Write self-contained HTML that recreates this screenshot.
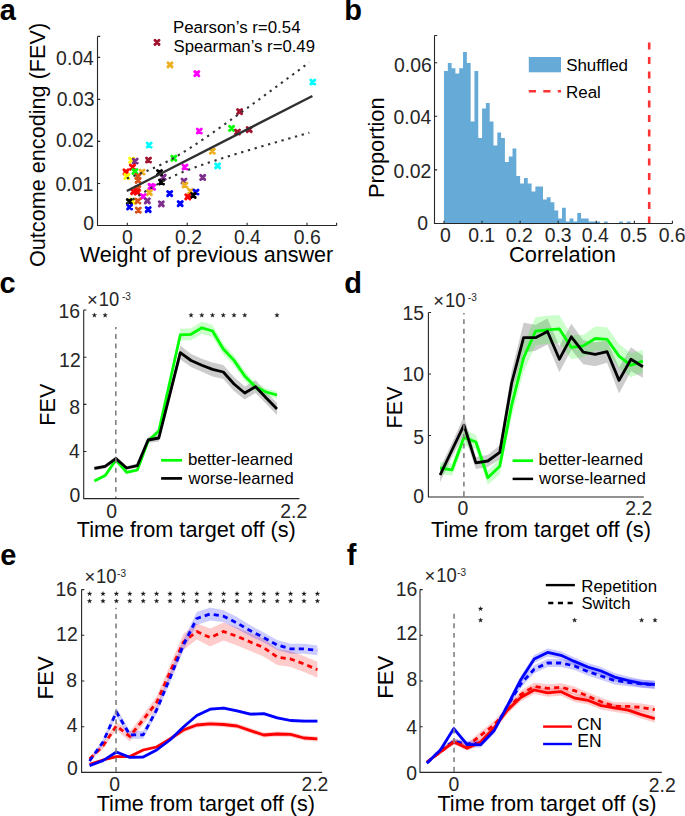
<!DOCTYPE html>
<html><head><meta charset="utf-8"><style>
html,body{margin:0;padding:0;background:#fff;}
svg{display:block;}
text{font-family:"Liberation Sans",sans-serif;}
</style></head><body>
<svg width="685" height="816" viewBox="0 0 685 816">
<rect width="685" height="816" fill="#fff"/>
<text x="-0.30" y="20.40" font-size="29" text-anchor="start" fill="#000" font-weight="bold" >a</text>
<text x="344.30" y="20.40" font-size="29" text-anchor="start" fill="#000" font-weight="bold" >b</text>
<text x="-0.50" y="293.30" font-size="29" text-anchor="start" fill="#000" font-weight="bold" >c</text>
<text x="344.30" y="293.30" font-size="29" text-anchor="start" fill="#000" font-weight="bold" >d</text>
<text x="0.20" y="565.00" font-size="29" text-anchor="start" fill="#000" font-weight="bold" >e</text>
<text x="346.80" y="564.80" font-size="29" text-anchor="start" fill="#000" font-weight="bold" >f</text>
<path d="M154.95,40.25 L159.05,44.35 M154.95,44.35 L159.05,40.25" stroke="#A2142F" stroke-width="2.9" stroke-linecap="round"/>
<path d="M167.95,62.75 L172.05,66.85 M167.95,66.85 L172.05,62.75" stroke="#EDB120" stroke-width="2.9" stroke-linecap="round"/>
<path d="M194.75,71.65 L198.85,75.75 M194.75,75.75 L198.85,71.65" stroke="#FF00FF" stroke-width="2.9" stroke-linecap="round"/>
<path d="M310.75,79.95 L314.85,84.05 M310.75,84.05 L314.85,79.95" stroke="#00FFFF" stroke-width="2.9" stroke-linecap="round"/>
<path d="M237.55,109.65 L241.65,113.75 M237.55,113.75 L241.65,109.65" stroke="#A2142F" stroke-width="2.9" stroke-linecap="round"/>
<path d="M229.55,126.25 L233.65,130.35 M229.55,130.35 L233.65,126.25" stroke="#00FF00" stroke-width="2.9" stroke-linecap="round"/>
<path d="M235.45,129.95 L239.55,134.05 M235.45,134.05 L239.55,129.95" stroke="#A2142F" stroke-width="2.9" stroke-linecap="round"/>
<path d="M247.15,127.55 L251.25,131.65 M247.15,131.65 L251.25,127.55" stroke="#A2142F" stroke-width="2.9" stroke-linecap="round"/>
<path d="M197.25,128.95 L201.35,133.05 M197.25,133.05 L201.35,128.95" stroke="#FF00FF" stroke-width="2.9" stroke-linecap="round"/>
<path d="M210.25,149.15 L214.35,153.25 M210.25,153.25 L214.35,149.15" stroke="#EDB120" stroke-width="2.9" stroke-linecap="round"/>
<path d="M215.55,163.75 L219.65,167.85 M215.55,167.85 L219.65,163.75" stroke="#00FFFF" stroke-width="2.9" stroke-linecap="round"/>
<path d="M200.65,175.35 L204.75,179.45 M200.65,179.45 L204.75,175.35" stroke="#7E2F8E" stroke-width="2.9" stroke-linecap="round"/>
<path d="M171.75,156.15 L175.85,160.25 M171.75,160.25 L175.85,156.15" stroke="#00FF00" stroke-width="2.9" stroke-linecap="round"/>
<path d="M182.95,164.95 L187.05,169.05 M182.95,169.05 L187.05,164.95" stroke="#FF00FF" stroke-width="2.9" stroke-linecap="round"/>
<path d="M181.95,178.95 L186.05,183.05 M181.95,183.05 L186.05,178.95" stroke="#7E2F8E" stroke-width="2.9" stroke-linecap="round"/>
<path d="M182.95,182.95 L187.05,187.05 M182.95,187.05 L187.05,182.95" stroke="#EDB120" stroke-width="2.9" stroke-linecap="round"/>
<path d="M188.45,189.25 L192.55,193.35 M188.45,193.35 L192.55,189.25" stroke="#EDB120" stroke-width="2.9" stroke-linecap="round"/>
<path d="M193.95,189.95 L198.05,194.05 M193.95,194.05 L198.05,189.95" stroke="#0000FF" stroke-width="2.9" stroke-linecap="round"/>
<path d="M191.15,193.45 L195.25,197.55 M191.15,197.55 L195.25,193.45" stroke="#000000" stroke-width="2.9" stroke-linecap="round"/>
<path d="M185.75,194.75 L189.85,198.85 M185.75,198.85 L189.85,194.75" stroke="#FF0000" stroke-width="2.9" stroke-linecap="round"/>
<path d="M167.65,191.55 L171.75,195.65 M167.65,195.65 L171.75,191.55" stroke="#0000FF" stroke-width="2.9" stroke-linecap="round"/>
<path d="M178.15,201.65 L182.25,205.75 M178.15,205.75 L182.25,201.65" stroke="#0000FF" stroke-width="2.9" stroke-linecap="round"/>
<path d="M159.25,201.75 L163.35,205.85 M159.25,205.85 L163.35,201.75" stroke="#7E2F8E" stroke-width="2.9" stroke-linecap="round"/>
<path d="M161.15,175.15 L165.25,179.25 M161.15,179.25 L165.25,175.15" stroke="#7E2F8E" stroke-width="2.9" stroke-linecap="round"/>
<path d="M157.45,170.55 L161.55,174.65 M157.45,174.65 L161.55,170.55" stroke="#000000" stroke-width="2.9" stroke-linecap="round"/>
<path d="M159.45,179.95 L163.55,184.05 M159.45,184.05 L163.55,179.95" stroke="#000000" stroke-width="2.9" stroke-linecap="round"/>
<path d="M147.15,142.95 L151.25,147.05 M147.15,147.05 L151.25,142.95" stroke="#00FFFF" stroke-width="2.9" stroke-linecap="round"/>
<path d="M146.45,157.95 L150.55,162.05 M146.45,162.05 L150.55,157.95" stroke="#A2142F" stroke-width="2.9" stroke-linecap="round"/>
<path d="M129.55,158.15 L133.65,162.25 M129.55,162.25 L133.65,158.15" stroke="#FFFF00" stroke-width="2.9" stroke-linecap="round"/>
<path d="M133.15,158.95 L137.25,163.05 M133.15,163.05 L137.25,158.95" stroke="#7E2F8E" stroke-width="2.9" stroke-linecap="round"/>
<path d="M130.45,165.15 L134.55,169.25 M130.45,169.25 L134.55,165.15" stroke="#FF0000" stroke-width="2.9" stroke-linecap="round"/>
<path d="M123.95,169.85 L128.05,173.95 M123.95,173.95 L128.05,169.85" stroke="#FF0000" stroke-width="2.9" stroke-linecap="round"/>
<path d="M132.85,169.45 L136.95,173.55 M132.85,173.55 L136.95,169.45" stroke="#00FF00" stroke-width="2.9" stroke-linecap="round"/>
<path d="M140.05,169.95 L144.15,174.05 M140.05,174.05 L144.15,169.95" stroke="#EDB120" stroke-width="2.9" stroke-linecap="round"/>
<path d="M124.75,174.35 L128.85,178.45 M124.75,178.45 L128.85,174.35" stroke="#FFFF00" stroke-width="2.9" stroke-linecap="round"/>
<path d="M135.75,174.35 L139.85,178.45 M135.75,178.45 L139.85,174.35" stroke="#D95319" stroke-width="2.9" stroke-linecap="round"/>
<path d="M136.05,178.25 L140.15,182.35 M136.05,182.35 L140.15,178.25" stroke="#D95319" stroke-width="2.9" stroke-linecap="round"/>
<path d="M148.95,184.35 L153.05,188.45 M148.95,188.45 L153.05,184.35" stroke="#FF00FF" stroke-width="2.9" stroke-linecap="round"/>
<path d="M150.55,185.15 L154.65,189.25 M150.55,189.25 L154.65,185.15" stroke="#FF00FF" stroke-width="2.9" stroke-linecap="round"/>
<path d="M135.75,186.45 L139.85,190.55 M135.75,190.55 L139.85,186.45" stroke="#D95319" stroke-width="2.9" stroke-linecap="round"/>
<path d="M131.55,189.55 L135.65,193.65 M131.55,193.65 L135.65,189.55" stroke="#FF0000" stroke-width="2.9" stroke-linecap="round"/>
<path d="M134.95,189.75 L139.05,193.85 M134.95,193.85 L139.05,189.75" stroke="#FF0000" stroke-width="2.9" stroke-linecap="round"/>
<path d="M147.35,190.55 L151.45,194.65 M147.35,194.65 L151.45,190.55" stroke="#EDB120" stroke-width="2.9" stroke-linecap="round"/>
<path d="M141.05,194.45 L145.15,198.55 M141.05,198.55 L145.15,194.45" stroke="#FF00FF" stroke-width="2.9" stroke-linecap="round"/>
<path d="M130.35,199.15 L134.45,203.25 M130.35,203.25 L134.45,199.15" stroke="#FFFF00" stroke-width="2.9" stroke-linecap="round"/>
<path d="M127.25,199.45 L131.35,203.55 M127.25,203.55 L131.35,199.45" stroke="#000000" stroke-width="2.9" stroke-linecap="round"/>
<path d="M135.85,198.95 L139.95,203.05 M135.85,203.05 L139.95,198.95" stroke="#D95319" stroke-width="2.9" stroke-linecap="round"/>
<path d="M145.25,198.75 L149.35,202.85 M145.25,202.85 L149.35,198.75" stroke="#7E2F8E" stroke-width="2.9" stroke-linecap="round"/>
<path d="M127.55,204.95 L131.65,209.05 M127.55,209.05 L131.65,204.95" stroke="#0000FF" stroke-width="2.9" stroke-linecap="round"/>
<path d="M136.25,208.05 L140.35,212.15 M136.25,212.15 L140.35,208.05" stroke="#D95319" stroke-width="2.9" stroke-linecap="round"/>
<path d="M146.15,207.55 L150.25,211.65 M146.15,211.65 L150.25,207.55" stroke="#0000FF" stroke-width="2.9" stroke-linecap="round"/>
<path d="M126.80,178.40 L127.30,178.23 L127.80,178.06 L128.30,177.89 L128.80,177.71 L129.30,177.54 L129.80,177.36 L130.30,177.19 L130.80,177.01 L131.30,176.84 L131.80,176.66 L132.30,176.48 L132.80,176.30 L133.30,176.12 L133.80,175.94 L134.30,175.76 L134.80,175.58 L135.30,175.40 L135.80,175.22 L136.30,175.03 L136.80,174.85 L137.30,174.66 L137.80,174.48 L138.30,174.29 L138.80,174.10 L139.30,173.91 L139.80,173.72 L140.30,173.53 L140.80,173.34 L141.30,173.15 L141.80,172.96 L142.30,172.76 L142.80,172.57 L143.30,172.37 L143.80,172.18 L144.30,171.98 L144.80,171.78 L145.30,171.58 L145.80,171.38 L146.30,171.17 L146.80,170.97 L147.30,170.76 L147.80,170.56 L148.30,170.35 L148.80,170.14 L149.30,169.93 L149.80,169.72 L150.30,169.51 L150.80,169.30 L151.30,169.08 L151.80,168.87 L152.30,168.65 L152.80,168.43 L153.30,168.21 L153.80,167.99 L154.30,167.77 L154.80,167.54 L155.30,167.32 L155.80,167.09 L156.30,166.86 L156.80,166.63 L157.30,166.40 L157.80,166.17 L158.30,165.93 L158.80,165.70 L159.30,165.46 L159.80,165.22 L160.30,164.98 L160.80,164.74 L161.30,164.50 L161.80,164.25 L162.30,164.00 L162.80,163.75 L163.30,163.51 L163.80,163.25 L164.30,163.00 L164.80,162.75 L165.30,162.49 L165.80,162.23 L166.30,161.97 L166.80,161.71 L167.30,161.45 L167.80,161.19 L168.30,160.92 L168.80,160.65 L169.30,160.38 L169.80,160.11 L170.30,159.84 L170.80,159.57 L171.30,159.29 L171.80,159.02 L172.30,158.74 L172.80,158.46 L173.30,158.18 L173.80,157.90 L174.30,157.61 L174.80,157.33 L175.30,157.04 L175.80,156.75 L176.30,156.46 L176.80,156.17 L177.30,155.88 L177.80,155.59 L178.30,155.29 L178.80,154.99 L179.30,154.70 L179.80,154.40 L180.30,154.10 L180.80,153.80 L181.30,153.49 L181.80,153.19 L182.30,152.89 L182.80,152.58 L183.30,152.27 L183.80,151.96 L184.30,151.65 L184.80,151.34 L185.30,151.03 L185.80,150.72 L186.30,150.40 L186.80,150.09 L187.30,149.77 L187.80,149.46 L188.30,149.14 L188.80,148.82 L189.30,148.50 L189.80,148.18 L190.30,147.86 L190.80,147.53 L191.30,147.21 L191.80,146.88 L192.30,146.56 L192.80,146.23 L193.30,145.91 L193.80,145.58 L194.30,145.25 L194.80,144.92 L195.30,144.59 L195.80,144.26 L196.30,143.93 L196.80,143.60 L197.30,143.26 L197.80,142.93 L198.30,142.60 L198.80,142.26 L199.30,141.92 L199.80,141.59 L200.30,141.25 L200.80,140.91 L201.30,140.58 L201.80,140.24 L202.30,139.90 L202.80,139.56 L203.30,139.22 L203.80,138.88 L204.30,138.54 L204.80,138.19 L205.30,137.85 L205.80,137.51 L206.30,137.17 L206.80,136.82 L207.30,136.48 L207.80,136.13 L208.30,135.79 L208.80,135.44 L209.30,135.10 L209.80,134.75 L210.30,134.40 L210.80,134.06 L211.30,133.71 L211.80,133.36 L212.30,133.01 L212.80,132.66 L213.30,132.31 L213.80,131.96 L214.30,131.61 L214.80,131.26 L215.30,130.91 L215.80,130.56 L216.30,130.21 L216.80,129.86 L217.30,129.51 L217.80,129.15 L218.30,128.80 L218.80,128.45 L219.30,128.10 L219.80,127.74 L220.30,127.39 L220.80,127.03 L221.30,126.68 L221.80,126.33 L222.30,125.97 L222.80,125.62 L223.30,125.26 L223.80,124.90 L224.30,124.55 L224.80,124.19 L225.30,123.84 L225.80,123.48 L226.30,123.12 L226.80,122.77 L227.30,122.41 L227.80,122.05 L228.30,121.69 L228.80,121.34 L229.30,120.98 L229.80,120.62 L230.30,120.26 L230.80,119.90 L231.30,119.54 L231.80,119.19 L232.30,118.83 L232.80,118.47 L233.30,118.11 L233.80,117.75 L234.30,117.39 L234.80,117.03 L235.30,116.67 L235.80,116.31 L236.30,115.95 L236.80,115.59 L237.30,115.23 L237.80,114.87 L238.30,114.50 L238.80,114.14 L239.30,113.78 L239.80,113.42 L240.30,113.06 L240.80,112.70 L241.30,112.33 L241.80,111.97 L242.30,111.61 L242.80,111.25 L243.30,110.89 L243.80,110.52 L244.30,110.16 L244.80,109.80 L245.30,109.43 L245.80,109.07 L246.30,108.71 L246.80,108.34 L247.30,107.98 L247.80,107.62 L248.30,107.25 L248.80,106.89 L249.30,106.53 L249.80,106.16 L250.30,105.80 L250.80,105.43 L251.30,105.07 L251.80,104.71 L252.30,104.34 L252.80,103.98 L253.30,103.61 L253.80,103.25 L254.30,102.88 L254.80,102.52 L255.30,102.15 L255.80,101.79 L256.30,101.42 L256.80,101.06 L257.30,100.69 L257.80,100.33 L258.30,99.96 L258.80,99.59 L259.30,99.23 L259.80,98.86 L260.30,98.50 L260.80,98.13 L261.30,97.77 L261.80,97.40 L262.30,97.03 L262.80,96.67 L263.30,96.30 L263.80,95.93 L264.30,95.57 L264.80,95.20 L265.30,94.83 L265.80,94.47 L266.30,94.10 L266.80,93.73 L267.30,93.37 L267.80,93.00 L268.30,92.63 L268.80,92.27 L269.30,91.90 L269.80,91.53 L270.30,91.17 L270.80,90.80 L271.30,90.43 L271.80,90.06 L272.30,89.70 L272.80,89.33 L273.30,88.96 L273.80,88.59 L274.30,88.23 L274.80,87.86 L275.30,87.49 L275.80,87.12 L276.30,86.75 L276.80,86.39 L277.30,86.02 L277.80,85.65 L278.30,85.28 L278.80,84.91 L279.30,84.55 L279.80,84.18 L280.30,83.81 L280.80,83.44 L281.30,83.07 L281.80,82.70 L282.30,82.34 L282.80,81.97 L283.30,81.60 L283.80,81.23 L284.30,80.86 L284.80,80.49 L285.30,80.12 L285.80,79.76 L286.30,79.39 L286.80,79.02 L287.30,78.65 L287.80,78.28 L288.30,77.91 L288.80,77.54 L289.30,77.17 L289.80,76.80 L290.30,76.44 L290.80,76.07 L291.30,75.70 L291.80,75.33 L292.30,74.96 L292.80,74.59 L293.30,74.22 L293.80,73.85 L294.30,73.48 L294.80,73.11 L295.30,72.74 L295.80,72.37 L296.30,72.00 L296.80,71.63 L297.30,71.26 L297.80,70.89 L298.30,70.53 L298.80,70.16 L299.30,69.79 L299.80,69.42 L300.30,69.05 L300.80,68.68 L301.30,68.31 L301.80,67.94 L302.30,67.57 L302.80,67.20 L303.30,66.83 L303.80,66.46 L304.30,66.09 L304.80,65.72 L305.30,65.35 L305.80,64.98 L306.30,64.61 L306.80,64.24 L307.30,63.87 L307.80,63.50 L308.30,63.13 L308.80,62.76 L309.30,62.39" fill="none" stroke="#333" stroke-width="2.1" stroke-dasharray="2.3 4.7" stroke-linejoin="round" />
<path d="M126.80,203.60 L127.30,203.26 L127.80,202.92 L128.30,202.58 L128.80,202.24 L129.30,201.90 L129.80,201.56 L130.30,201.23 L130.80,200.89 L131.30,200.56 L131.80,200.22 L132.30,199.89 L132.80,199.55 L133.30,199.22 L133.80,198.89 L134.30,198.56 L134.80,198.23 L135.30,197.90 L135.80,197.57 L136.30,197.24 L136.80,196.91 L137.30,196.58 L137.80,196.26 L138.30,195.93 L138.80,195.61 L139.30,195.29 L139.80,194.96 L140.30,194.64 L140.80,194.32 L141.30,194.00 L141.80,193.68 L142.30,193.36 L142.80,193.05 L143.30,192.73 L143.80,192.42 L144.30,192.10 L144.80,191.79 L145.30,191.48 L145.80,191.17 L146.30,190.86 L146.80,190.55 L147.30,190.24 L147.80,189.94 L148.30,189.63 L148.80,189.33 L149.30,189.03 L149.80,188.72 L150.30,188.43 L150.80,188.13 L151.30,187.83 L151.80,187.53 L152.30,187.24 L152.80,186.94 L153.30,186.65 L153.80,186.36 L154.30,186.07 L154.80,185.79 L155.30,185.50 L155.80,185.21 L156.30,184.93 L156.80,184.65 L157.30,184.37 L157.80,184.09 L158.30,183.81 L158.80,183.53 L159.30,183.26 L159.80,182.99 L160.30,182.72 L160.80,182.45 L161.30,182.18 L161.80,181.91 L162.30,181.64 L162.80,181.38 L163.30,181.12 L163.80,180.86 L164.30,180.60 L164.80,180.34 L165.30,180.09 L165.80,179.83 L166.30,179.58 L166.80,179.33 L167.30,179.08 L167.80,178.83 L168.30,178.58 L168.80,178.34 L169.30,178.10 L169.80,177.85 L170.30,177.61 L170.80,177.38 L171.30,177.14 L171.80,176.90 L172.30,176.67 L172.80,176.44 L173.30,176.21 L173.80,175.98 L174.30,175.75 L174.80,175.52 L175.30,175.30 L175.80,175.07 L176.30,174.85 L176.80,174.63 L177.30,174.41 L177.80,174.19 L178.30,173.97 L178.80,173.76 L179.30,173.54 L179.80,173.33 L180.30,173.12 L180.80,172.91 L181.30,172.70 L181.80,172.49 L182.30,172.28 L182.80,172.08 L183.30,171.87 L183.80,171.67 L184.30,171.47 L184.80,171.27 L185.30,171.07 L185.80,170.87 L186.30,170.67 L186.80,170.47 L187.30,170.28 L187.80,170.08 L188.30,169.89 L188.80,169.69 L189.30,169.50 L189.80,169.31 L190.30,169.12 L190.80,168.93 L191.30,168.74 L191.80,168.56 L192.30,168.37 L192.80,168.18 L193.30,168.00 L193.80,167.81 L194.30,167.63 L194.80,167.45 L195.30,167.27 L195.80,167.08 L196.30,166.90 L196.80,166.72 L197.30,166.54 L197.80,166.37 L198.30,166.19 L198.80,166.01 L199.30,165.84 L199.80,165.66 L200.30,165.48 L200.80,165.31 L201.30,165.14 L201.80,164.96 L202.30,164.79 L202.80,164.62 L203.30,164.45 L203.80,164.27 L204.30,164.10 L204.80,163.93 L205.30,163.76 L205.80,163.60 L206.30,163.43 L206.80,163.26 L207.30,163.09 L207.80,162.92 L208.30,162.76 L208.80,162.59 L209.30,162.42 L209.80,162.26 L210.30,162.09 L210.80,161.93 L211.30,161.76 L211.80,161.60 L212.30,161.44 L212.80,161.27 L213.30,161.11 L213.80,160.95 L214.30,160.79 L214.80,160.63 L215.30,160.46 L215.80,160.30 L216.30,160.14 L216.80,159.98 L217.30,159.82 L217.80,159.66 L218.30,159.50 L218.80,159.34 L219.30,159.18 L219.80,159.03 L220.30,158.87 L220.80,158.71 L221.30,158.55 L221.80,158.39 L222.30,158.24 L222.80,158.08 L223.30,157.92 L223.80,157.77 L224.30,157.61 L224.80,157.45 L225.30,157.30 L225.80,157.14 L226.30,156.99 L226.80,156.83 L227.30,156.68 L227.80,156.52 L228.30,156.37 L228.80,156.22 L229.30,156.06 L229.80,155.91 L230.30,155.75 L230.80,155.60 L231.30,155.45 L231.80,155.29 L232.30,155.14 L232.80,154.99 L233.30,154.84 L233.80,154.68 L234.30,154.53 L234.80,154.38 L235.30,154.23 L235.80,154.08 L236.30,153.92 L236.80,153.77 L237.30,153.62 L237.80,153.47 L238.30,153.32 L238.80,153.17 L239.30,153.02 L239.80,152.87 L240.30,152.72 L240.80,152.57 L241.30,152.42 L241.80,152.27 L242.30,152.12 L242.80,151.97 L243.30,151.82 L243.80,151.67 L244.30,151.52 L244.80,151.37 L245.30,151.22 L245.80,151.07 L246.30,150.92 L246.80,150.78 L247.30,150.63 L247.80,150.48 L248.30,150.33 L248.80,150.18 L249.30,150.03 L249.80,149.89 L250.30,149.74 L250.80,149.59 L251.30,149.44 L251.80,149.29 L252.30,149.15 L252.80,149.00 L253.30,148.85 L253.80,148.71 L254.30,148.56 L254.80,148.41 L255.30,148.26 L255.80,148.12 L256.30,147.97 L256.80,147.82 L257.30,147.68 L257.80,147.53 L258.30,147.38 L258.80,147.24 L259.30,147.09 L259.80,146.95 L260.30,146.80 L260.80,146.65 L261.30,146.51 L261.80,146.36 L262.30,146.22 L262.80,146.07 L263.30,145.92 L263.80,145.78 L264.30,145.63 L264.80,145.49 L265.30,145.34 L265.80,145.20 L266.30,145.05 L266.80,144.91 L267.30,144.76 L267.80,144.62 L268.30,144.47 L268.80,144.33 L269.30,144.18 L269.80,144.04 L270.30,143.89 L270.80,143.75 L271.30,143.60 L271.80,143.46 L272.30,143.31 L272.80,143.17 L273.30,143.02 L273.80,142.88 L274.30,142.73 L274.80,142.59 L275.30,142.45 L275.80,142.30 L276.30,142.16 L276.80,142.01 L277.30,141.87 L277.80,141.73 L278.30,141.58 L278.80,141.44 L279.30,141.29 L279.80,141.15 L280.30,141.01 L280.80,140.86 L281.30,140.72 L281.80,140.58 L282.30,140.43 L282.80,140.29 L283.30,140.15 L283.80,140.00 L284.30,139.86 L284.80,139.71 L285.30,139.57 L285.80,139.43 L286.30,139.29 L286.80,139.14 L287.30,139.00 L287.80,138.86 L288.30,138.71 L288.80,138.57 L289.30,138.43 L289.80,138.28 L290.30,138.14 L290.80,138.00 L291.30,137.86 L291.80,137.71 L292.30,137.57 L292.80,137.43 L293.30,137.28 L293.80,137.14 L294.30,137.00 L294.80,136.86 L295.30,136.71 L295.80,136.57 L296.30,136.43 L296.80,136.29 L297.30,136.14 L297.80,136.00 L298.30,135.86 L298.80,135.72 L299.30,135.57 L299.80,135.43 L300.30,135.29 L300.80,135.15 L301.30,135.01 L301.80,134.86 L302.30,134.72 L302.80,134.58 L303.30,134.44 L303.80,134.29 L304.30,134.15 L304.80,134.01 L305.30,133.87 L305.80,133.73 L306.30,133.58 L306.80,133.44 L307.30,133.30 L307.80,133.16 L308.30,133.02 L308.80,132.88 L309.30,132.73" fill="none" stroke="#333" stroke-width="2.1" stroke-dasharray="2.3 4.7" stroke-linejoin="round" />
<path d="M126.8,191.0 L312.4,95.97" stroke="#303030" stroke-width="2.4"/>
<path d="M97.5,36.4 V225.5 H336.6" fill="none" stroke="#262626" stroke-width="1.1"/>
<path d="M97.5,183.50 h2.7 M97.5,141.40 h2.7 M97.5,99.40 h2.7 M97.5,57.40 h2.7 M97.5,36.40 h2.7 M127.30,225.5 v-2.7 M187.20,225.5 v-2.7 M247.10,225.5 v-2.7 M307.00,225.5 v-2.7 M336.60,225.5 v-2.7 " fill="none" stroke="#262626" stroke-width="1.1"/>
<text x="83.27" y="230.00" font-size="19.4" text-anchor="start" fill="#262626" >0</text>
<text x="55.49" y="191.10" font-size="19.4" text-anchor="start" fill="#262626" >0.01</text>
<text x="56.12" y="147.10" font-size="19.4" text-anchor="start" fill="#262626" >0.02</text>
<text x="56.69" y="105.90" font-size="19.4" text-anchor="start" fill="#262626" >0.03</text>
<text x="56.11" y="64.80" font-size="19.4" text-anchor="start" fill="#262626" >0.04</text>
<text x="121.91" y="244.00" font-size="19.4" text-anchor="start" fill="#262626" >0</text>
<text x="175.02" y="244.00" font-size="19.4" text-anchor="start" fill="#262626" >0.2</text>
<text x="233.92" y="244.00" font-size="19.4" text-anchor="start" fill="#262626" >0.4</text>
<text x="293.76" y="244.00" font-size="19.4" text-anchor="start" fill="#262626" >0.6</text>
<text x="79.81" y="262.00" font-size="21.544" text-anchor="start" fill="#000" >Weight of previous answer</text>
<text transform="translate(45.20,267.03) rotate(-90)" font-size="21.659" fill="#000">Outcome encoding (FEV)</text>
<text x="172.92" y="32.70" font-size="16.879" text-anchor="start" fill="#000" >Pearson’s r=0.54</text>
<text x="173.54" y="52.00" font-size="16.722" text-anchor="start" fill="#000" >Spearman’s r=0.49</text>
<path d="M444.00,223.5 V71.00 H447.81 V63.00 H451.61 V68.20 H455.42 V73.50 H459.23 V68.20 H463.04 V52.00 H466.84 V63.00 H470.65 V121.60 H474.46 V71.00 H478.26 V138.00 H482.07 V108.40 H485.88 V103.00 H489.68 V121.60 H493.49 V145.60 H497.30 V132.40 H501.11 V138.00 H504.91 V162.00 H508.72 V156.60 H512.53 V148.60 H516.33 V176.00 H520.14 V183.60 H523.95 V178.00 H527.75 V183.60 H531.56 V191.60 H535.37 V186.40 H539.17 V186.40 H542.98 V199.60 H546.79 V197.20 H550.60 V202.20 H554.40 V210.40 H558.21 V218.40 H562.02 V207.70 H565.82 V221.40 H569.63 V218.40 H573.44 V221.40 H577.25 V213.00 H581.05 V218.40 H584.86 V218.40 H588.67 V221.40 H592.47 V221.40 H596.28 V221.40 H600.09 V223.5Z M603.89,223.5 V221.40 H607.70 V223.5Z M619.12,223.5 V221.40 H622.93 V223.5Z M626.74,223.5 V221.40 H630.54 V223.5Z " fill="#66AAD7" stroke="none"/>
<path d="M649.2,223.5 V35.5" stroke="#FF3333" stroke-width="2.6" stroke-dasharray="7 7.5"/>
<path d="M434.5,35.5 V223.5 H672.4" fill="none" stroke="#262626" stroke-width="1.1"/>
<path d="M434.5,169.90 h2.7 M434.5,116.30 h2.7 M434.5,62.70 h2.7 M434.5,35.50 h2.7 M444.00,223.5 v-2.7 M482.07,223.5 v-2.7 M520.14,223.5 v-2.7 M558.21,223.5 v-2.7 M596.28,223.5 v-2.7 M634.35,223.5 v-2.7 M672.42,223.5 v-2.7 " fill="none" stroke="#262626" stroke-width="1.1"/>
<text x="417.27" y="230.40" font-size="19.4" text-anchor="start" fill="#262626" >0</text>
<text x="393.62" y="178.10" font-size="19.4" text-anchor="start" fill="#262626" >0.02</text>
<text x="393.51" y="124.20" font-size="19.4" text-anchor="start" fill="#262626" >0.04</text>
<text x="394.09" y="71.50" font-size="19.4" text-anchor="start" fill="#262626" >0.06</text>
<text x="440.11" y="242.10" font-size="19.4" text-anchor="start" fill="#262626" >0</text>
<text x="468.21" y="242.10" font-size="19.4" text-anchor="start" fill="#262626" >0.1</text>
<text x="505.72" y="242.10" font-size="19.4" text-anchor="start" fill="#262626" >0.2</text>
<text x="544.66" y="242.10" font-size="19.4" text-anchor="start" fill="#262626" >0.3</text>
<text x="581.82" y="242.10" font-size="19.4" text-anchor="start" fill="#262626" >0.4</text>
<text x="620.14" y="242.10" font-size="19.4" text-anchor="start" fill="#262626" >0.5</text>
<text x="658.66" y="242.10" font-size="19.4" text-anchor="start" fill="#262626" >0.6</text>
<text x="509.09" y="261.90" font-size="21.841" text-anchor="start" fill="#000" >Correlation</text>
<text transform="translate(384.10,197.99) rotate(-90)" font-size="21.805" fill="#000">Proportion</text>
<rect x="528.8" y="57" width="32.2" height="15.3" fill="#66AAD7"/>
<path d="M528.8,91.3 H561" stroke="#FF3333" stroke-width="2.6" stroke-dasharray="7.2 7.3"/>
<text x="566.13" y="70.70" font-size="16.968" text-anchor="start" fill="#000" >Shuffled</text>
<text x="566.01" y="97.50" font-size="16.95" text-anchor="start" fill="#000" >Real</text>
<path d="M94.40,466.40 L105.14,464.40 L115.88,456.10 L126.62,466.00 L137.36,463.60 L148.10,437.00 L158.84,434.50 L169.58,390.30 L180.32,345.60 L191.06,354.00 L201.80,358.70 L212.54,362.40 L223.28,365.00 L234.02,377.00 L244.76,386.50 L255.50,380.10 L266.24,392.00 L276.98,403.00 L276.98,415.00 L266.24,404.00 L255.50,393.10 L244.76,399.50 L234.02,391.00 L223.28,379.00 L212.54,376.40 L201.80,371.70 L191.06,367.00 L180.32,359.60 L169.58,400.30 L158.84,441.50 L148.10,443.00 L137.36,467.60 L126.62,470.00 L115.88,461.10 L105.14,468.40 L94.40,470.40Z" fill="#000000" fill-opacity="0.2" stroke="none"/>
<path d="M94.40,479.50 L105.14,474.10 L115.88,458.00 L126.62,470.90 L137.36,468.50 L148.10,438.50 L158.84,428.00 L169.58,379.00 L180.32,328.80 L191.06,328.30 L201.80,321.50 L212.54,325.00 L223.28,343.50 L234.02,355.40 L244.76,371.00 L255.50,383.00 L266.24,388.50 L276.98,391.50 L276.98,398.50 L266.24,395.50 L255.50,391.00 L244.76,381.00 L234.02,365.40 L223.28,354.50 L212.54,337.00 L201.80,334.10 L191.06,340.30 L180.32,340.80 L169.58,387.00 L158.84,434.00 L148.10,443.50 L137.36,471.50 L126.62,473.90 L115.88,462.00 L105.14,477.10 L94.40,482.50Z" fill="#00FF00" fill-opacity="0.2" stroke="none"/>
<path d="M94.40,481.00 L105.14,475.60 L115.88,460.00 L126.62,472.40 L137.36,470.00 L148.10,441.00 L158.84,431.00 L169.58,383.00 L180.32,334.80 L191.06,334.30 L201.80,327.80 L212.54,331.00 L223.28,349.00 L234.02,360.40 L244.76,376.00 L255.50,387.00 L266.24,392.00 L276.98,395.00" fill="none" stroke="#00FF00" stroke-width="2.8" stroke-linejoin="round" />
<path d="M94.40,468.40 L105.14,466.40 L115.88,458.60 L126.62,468.00 L137.36,465.60 L148.10,440.00 L158.84,438.00 L169.58,395.30 L180.32,352.60 L191.06,360.50 L201.80,365.20 L212.54,369.40 L223.28,372.00 L234.02,384.00 L244.76,393.00 L255.50,386.60 L266.24,398.00 L276.98,409.00" fill="none" stroke="#000000" stroke-width="2.8" stroke-linejoin="round" />
<path d="M115.8,326.9 V498.6" stroke="#808080" stroke-width="1.6" stroke-dasharray="4.9 4.66" stroke-dashoffset="2.46"/>
<path d="M83.7,310 V498.6 H299.4" fill="none" stroke="#262626" stroke-width="1.1"/>
<path d="M83.7,451.50 h2.7 M83.7,404.40 h2.7 M83.7,357.20 h2.7 M83.7,310.00 h2.7 " fill="none" stroke="#262626" stroke-width="1.1"/>
<text x="69.57" y="501.90" font-size="19.4" text-anchor="start" fill="#262626" >0</text>
<text x="69.08" y="458.30" font-size="19.4" text-anchor="start" fill="#262626" >4</text>
<text x="69.35" y="413.70" font-size="19.4" text-anchor="start" fill="#262626" >8</text>
<text x="59.10" y="366.60" font-size="19.4" text-anchor="start" fill="#262626" >12</text>
<text x="58.57" y="318.10" font-size="19.4" text-anchor="start" fill="#262626" >16</text>
<text x="106.31" y="517.60" font-size="19.4" text-anchor="start" fill="#262626" >0</text>
<text x="280.22" y="517.70" font-size="19.4" text-anchor="start" fill="#262626" >2.2</text>
<text x="76.71" y="536.50" font-size="21.678" text-anchor="start" fill="#000" >Time from target off (s)</text>
<text transform="translate(55.10,425.67) rotate(-90)" font-size="21.632" fill="#000">FEV</text>
<text x="87.12" y="305.70" font-size="18.4" text-anchor="start" fill="#262626" >×</text>
<text transform="translate(98.70,305.70) scale(1,1.08)" font-size="18.4" fill="#262626">10</text>
<text x="121.96" y="299.60" font-size="10" text-anchor="start" fill="#262626" >-3</text>
<path d="M94.40,312.83 L94.96,314.45 L96.68,314.49 L95.31,315.53 L95.81,317.17 L94.40,316.19 L92.99,317.17 L93.49,315.53 L92.12,314.49 L93.84,314.45Z M105.14,312.83 L105.70,314.45 L107.42,314.49 L106.05,315.53 L106.55,317.17 L105.14,316.19 L103.73,317.17 L104.23,315.53 L102.86,314.49 L104.58,314.45Z M191.06,312.83 L191.62,314.45 L193.34,314.49 L191.97,315.53 L192.47,317.17 L191.06,316.19 L189.65,317.17 L190.15,315.53 L188.78,314.49 L190.50,314.45Z M201.80,312.83 L202.36,314.45 L204.08,314.49 L202.71,315.53 L203.21,317.17 L201.80,316.19 L200.39,317.17 L200.89,315.53 L199.52,314.49 L201.24,314.45Z M212.54,312.83 L213.10,314.45 L214.82,314.49 L213.45,315.53 L213.95,317.17 L212.54,316.19 L211.13,317.17 L211.63,315.53 L210.26,314.49 L211.98,314.45Z M223.28,312.83 L223.84,314.45 L225.56,314.49 L224.19,315.53 L224.69,317.17 L223.28,316.19 L221.87,317.17 L222.37,315.53 L221.00,314.49 L222.72,314.45Z M234.02,312.83 L234.58,314.45 L236.30,314.49 L234.93,315.53 L235.43,317.17 L234.02,316.19 L232.61,317.17 L233.11,315.53 L231.74,314.49 L233.46,314.45Z M244.76,312.83 L245.32,314.45 L247.04,314.49 L245.67,315.53 L246.17,317.17 L244.76,316.19 L243.35,317.17 L243.85,315.53 L242.48,314.49 L244.20,314.45Z M276.98,312.83 L277.54,314.45 L279.26,314.49 L277.89,315.53 L278.39,317.17 L276.98,316.19 L275.57,317.17 L276.07,315.53 L274.70,314.49 L276.42,314.45Z " fill="#1a1a1a" stroke="#1a1a1a" stroke-width="0.3"/>
<path d="M161.1,460.3 H182.1" stroke="#00FF00" stroke-width="2.7"/>
<path d="M161.1,478.4 H182.1" stroke="#000" stroke-width="2.7"/>
<text x="187.91" y="464.70" font-size="16.893" text-anchor="start" fill="#000" >better-learned</text>
<text x="188.42" y="483.70" font-size="16.61" text-anchor="start" fill="#000" >worse-learned</text>
<path d="M440.10,468.00 L452.03,443.00 L463.96,416.20 L475.89,456.90 L487.82,455.00 L499.75,445.30 L511.68,371.00 L523.61,322.70 L535.54,324.70 L547.47,318.50 L559.40,346.20 L571.33,323.80 L583.26,340.20 L595.19,342.30 L607.12,340.70 L619.05,367.40 L630.98,347.20 L642.91,355.70 L642.91,377.70 L630.98,371.20 L619.05,393.40 L607.12,362.70 L595.19,366.30 L583.26,364.20 L571.33,349.80 L559.40,372.20 L547.47,344.50 L535.54,350.70 L523.61,352.70 L511.68,395.00 L499.75,459.30 L487.82,467.00 L475.89,468.90 L463.96,434.20 L452.03,457.00 L440.10,482.00Z" fill="#000000" fill-opacity="0.2" stroke="none"/>
<path d="M440.10,462.00 L452.03,463.80 L463.96,429.40 L475.89,435.00 L487.82,470.70 L499.75,458.30 L511.68,393.00 L523.61,343.80 L535.54,317.20 L547.47,315.80 L559.40,314.90 L571.33,335.30 L583.26,334.90 L595.19,326.50 L607.12,327.30 L619.05,344.10 L630.98,353.30 L642.91,350.00 L642.91,372.00 L630.98,377.30 L619.05,368.10 L607.12,351.30 L595.19,350.50 L583.26,356.90 L571.33,359.30 L559.40,342.90 L547.47,343.80 L535.54,345.20 L523.61,371.80 L511.68,417.00 L499.75,474.30 L487.82,484.70 L475.89,449.00 L463.96,445.40 L452.03,475.80 L440.10,474.00Z" fill="#00FF00" fill-opacity="0.2" stroke="none"/>
<path d="M440.10,468.00 L452.03,469.80 L463.96,437.40 L475.89,442.00 L487.82,477.70 L499.75,466.30 L511.68,405.00 L523.61,357.80 L535.54,331.20 L547.47,329.80 L559.40,328.90 L571.33,347.30 L583.26,345.90 L595.19,338.50 L607.12,339.30 L619.05,356.10 L630.98,365.30 L642.91,361.00" fill="none" stroke="#00FF00" stroke-width="2.8" stroke-linejoin="round" />
<path d="M440.10,475.00 L452.03,450.00 L463.96,425.20 L475.89,462.90 L487.82,461.00 L499.75,452.30 L511.68,383.00 L523.61,337.70 L535.54,337.70 L547.47,331.50 L559.40,359.20 L571.33,336.80 L583.26,352.20 L595.19,354.30 L607.12,351.70 L619.05,380.40 L630.98,359.20 L642.91,366.70" fill="none" stroke="#000000" stroke-width="2.8" stroke-linejoin="round" />
<path d="M463.9,313.1 V497" stroke="#808080" stroke-width="1.6" stroke-dasharray="4.9 4.66" stroke-dashoffset="3.46"/>
<path d="M428.4,312.5 V497 H643.8" fill="none" stroke="#262626" stroke-width="1.1"/>
<path d="M428.4,435.50 h2.7 M428.4,374.00 h2.7 M428.4,312.50 h2.7 " fill="none" stroke="#262626" stroke-width="1.1"/>
<text x="413.17" y="503.10" font-size="19.4" text-anchor="start" fill="#262626" >0</text>
<text x="413.23" y="443.80" font-size="19.4" text-anchor="start" fill="#262626" >5</text>
<text x="402.38" y="381.30" font-size="19.4" text-anchor="start" fill="#262626" >10</text>
<text x="402.44" y="319.60" font-size="19.4" text-anchor="start" fill="#262626" >15</text>
<text x="457.61" y="515.30" font-size="19.4" text-anchor="start" fill="#262626" >0</text>
<text x="625.32" y="515.30" font-size="19.4" text-anchor="start" fill="#262626" >2.2</text>
<text x="430.91" y="536.50" font-size="21.757" text-anchor="start" fill="#000" >Time from target off (s)</text>
<text transform="translate(402.10,428.38) rotate(-90)" font-size="21.685" fill="#000">FEV</text>
<text x="433.32" y="307.30" font-size="18.4" text-anchor="start" fill="#262626" >×</text>
<text transform="translate(445.00,307.30) scale(1,1.08)" font-size="18.4" fill="#262626">10</text>
<text x="467.86" y="301.30" font-size="10" text-anchor="start" fill="#262626" >-3</text>
<path d="M512.6,460.7 H533.1" stroke="#00FF00" stroke-width="2.7"/>
<path d="M512.6,478.9 H533.1" stroke="#000" stroke-width="2.5"/>
<text x="538.62" y="464.70" font-size="16.778" text-anchor="start" fill="#000" >better-learned</text>
<text x="539.12" y="483.60" font-size="16.833" text-anchor="start" fill="#000" >worse-learned</text>
<path d="M89.60,757.00 L103.00,743.00 L116.40,721.80 L129.80,731.40 L143.20,714.60 L156.60,696.50 L170.00,665.00 L183.40,634.00 L196.80,623.50 L210.20,628.60 L223.60,622.50 L237.00,627.40 L250.40,633.00 L263.80,638.70 L277.20,649.10 L290.60,651.00 L304.00,655.90 L317.40,661.70 L317.40,677.70 L304.00,671.90 L290.60,667.00 L277.20,665.10 L263.80,656.70 L250.40,651.00 L237.00,645.40 L223.60,640.50 L210.20,646.60 L196.80,639.50 L183.40,650.00 L170.00,679.00 L156.60,708.50 L143.20,724.60 L129.80,741.40 L116.40,729.80 L103.00,749.00 L89.60,761.00Z" fill="#FF0000" fill-opacity="0.2" stroke="none"/>
<path d="M89.60,759.00 L103.00,739.00 L116.40,707.50 L129.80,730.80 L143.20,730.80 L156.60,706.00 L170.00,673.00 L183.40,639.50 L196.80,612.00 L210.20,607.50 L223.60,610.20 L237.00,617.00 L250.40,625.30 L263.80,632.60 L277.20,640.00 L290.60,643.80 L304.00,643.80 L317.40,645.60 L317.40,655.20 L304.00,653.80 L290.60,653.80 L277.20,650.00 L263.80,642.60 L250.40,636.30 L237.00,629.00 L223.60,622.20 L210.20,620.50 L196.80,625.00 L183.40,650.50 L170.00,683.00 L156.60,714.00 L143.20,738.80 L129.80,738.80 L116.40,716.50 L103.00,745.00 L89.60,763.00Z" fill="#0000FF" fill-opacity="0.2" stroke="none"/>
<path d="M89.60,763.40 L103.00,758.80 L116.40,755.10 L129.80,755.10 L143.20,748.50 L156.60,745.50 L170.00,737.00 L183.40,727.50 L196.80,722.50 L210.20,721.30 L223.60,722.00 L237.00,723.50 L250.40,728.10 L263.80,732.50 L277.20,731.50 L290.60,731.90 L304.00,735.50 L317.40,736.40 L317.40,741.40 L304.00,740.50 L290.60,736.90 L277.20,736.50 L263.80,737.50 L250.40,733.10 L237.00,728.50 L223.60,727.00 L210.20,726.30 L196.80,727.50 L183.40,732.50 L170.00,741.00 L156.60,748.50 L143.20,751.50 L129.80,758.10 L116.40,758.10 L103.00,761.20 L89.60,765.40Z" fill="#FF0000" fill-opacity="0.2" stroke="none"/>
<path d="M89.60,764.60 L103.00,759.60 L116.40,750.80 L129.80,756.20 L143.20,755.80 L156.60,748.80 L170.00,738.50 L183.40,725.50 L196.80,714.00 L210.20,707.70 L223.60,706.60 L237.00,709.30 L250.40,712.70 L263.80,712.20 L277.20,716.30 L290.60,719.00 L304.00,719.60 L317.40,719.60 L317.40,722.60 L304.00,722.60 L290.60,722.00 L277.20,719.30 L263.80,715.20 L250.40,715.70 L237.00,712.30 L223.60,709.60 L210.20,710.70 L196.80,717.00 L183.40,728.50 L170.00,741.50 L156.60,751.20 L143.20,758.20 L129.80,758.60 L116.40,753.20 L103.00,761.60 L89.60,766.60Z" fill="#0000FF" fill-opacity="0.2" stroke="none"/>
<path d="M89.60,764.40 L103.00,760.00 L116.40,756.60 L129.80,756.60 L143.20,750.00 L156.60,747.00 L170.00,739.00 L183.40,730.00 L196.80,725.00 L210.20,723.80 L223.60,724.50 L237.00,726.00 L250.40,730.60 L263.80,735.00 L277.20,734.00 L290.60,734.40 L304.00,738.00 L317.40,738.90" fill="none" stroke="#FF0000" stroke-width="2.8" stroke-linejoin="round" />
<path d="M89.60,765.60 L103.00,760.60 L116.40,752.00 L129.80,757.40 L143.20,757.00 L156.60,750.00 L170.00,740.00 L183.40,727.00 L196.80,715.50 L210.20,709.20 L223.60,708.10 L237.00,710.80 L250.40,714.20 L263.80,713.70 L277.20,717.80 L290.60,720.50 L304.00,721.10 L317.40,721.10" fill="none" stroke="#0000FF" stroke-width="2.8" stroke-linejoin="round" />
<path d="M89.60,759.00 L103.00,746.00 L116.40,725.80 L129.80,736.40 L143.20,719.60 L156.60,702.50 L170.00,672.00 L183.40,642.00 L196.80,631.50 L210.20,637.60 L223.60,631.50 L237.00,636.40 L250.40,642.00 L263.80,647.70 L277.20,657.10 L290.60,659.00 L304.00,663.90 L317.40,669.70" fill="none" stroke="#FF0000" stroke-width="2.8" stroke-dasharray="5.2 4.1" stroke-linejoin="round" />
<path d="M89.60,761.00 L103.00,742.00 L116.40,712.00 L129.80,734.80 L143.20,734.80 L156.60,710.00 L170.00,678.00 L183.40,645.00 L196.80,618.50 L210.20,614.00 L223.60,616.20 L237.00,623.00 L250.40,630.80 L263.80,637.60 L277.20,645.00 L290.60,648.80 L304.00,648.80 L317.40,650.40" fill="none" stroke="#0000FF" stroke-width="2.8" stroke-dasharray="5.2 4.1" stroke-linejoin="round" />
<path d="M116.05,607.8 V772.4" stroke="#808080" stroke-width="1.6" stroke-dasharray="4.9 4.66" stroke-dashoffset="3.35"/>
<path d="M81.6,589.6 V772.4 H322.1" fill="none" stroke="#262626" stroke-width="1.1"/>
<path d="M81.6,726.70 h2.7 M81.6,681.00 h2.7 M81.6,635.30 h2.7 M81.6,589.60 h2.7 " fill="none" stroke="#262626" stroke-width="1.1"/>
<text x="67.07" y="775.30" font-size="19.4" text-anchor="start" fill="#262626" >0</text>
<text x="66.78" y="732.40" font-size="19.4" text-anchor="start" fill="#262626" >4</text>
<text x="66.35" y="686.80" font-size="19.4" text-anchor="start" fill="#262626" >8</text>
<text x="56.10" y="640.70" font-size="19.4" text-anchor="start" fill="#262626" >12</text>
<text x="55.57" y="596.20" font-size="19.4" text-anchor="start" fill="#262626" >16</text>
<text x="109.21" y="791.40" font-size="19.4" text-anchor="start" fill="#262626" >0</text>
<text x="301.42" y="791.30" font-size="19.4" text-anchor="start" fill="#262626" >2.2</text>
<text x="96.71" y="811.00" font-size="21.599" text-anchor="start" fill="#000" >Time from target off (s)</text>
<text transform="translate(53.00,699.43) rotate(-90)" font-size="22.277" fill="#000">FEV</text>
<text x="84.42" y="583.30" font-size="18.4" text-anchor="start" fill="#262626" >×</text>
<text transform="translate(96.10,583.30) scale(1,1.08)" font-size="18.4" fill="#262626">10</text>
<text x="117.06" y="577.00" font-size="10" text-anchor="start" fill="#262626" >-3</text>
<path d="M89.60,591.43 L90.16,593.05 L91.88,593.09 L90.51,594.13 L91.01,595.77 L89.60,594.79 L88.19,595.77 L88.69,594.13 L87.32,593.09 L89.04,593.05Z M103.00,591.43 L103.56,593.05 L105.28,593.09 L103.91,594.13 L104.41,595.77 L103.00,594.79 L101.59,595.77 L102.09,594.13 L100.72,593.09 L102.44,593.05Z M116.40,591.43 L116.96,593.05 L118.68,593.09 L117.31,594.13 L117.81,595.77 L116.40,594.79 L114.99,595.77 L115.49,594.13 L114.12,593.09 L115.84,593.05Z M129.80,591.43 L130.36,593.05 L132.08,593.09 L130.71,594.13 L131.21,595.77 L129.80,594.79 L128.39,595.77 L128.89,594.13 L127.52,593.09 L129.24,593.05Z M143.20,591.43 L143.76,593.05 L145.48,593.09 L144.11,594.13 L144.61,595.77 L143.20,594.79 L141.79,595.77 L142.29,594.13 L140.92,593.09 L142.64,593.05Z M156.60,591.43 L157.16,593.05 L158.88,593.09 L157.51,594.13 L158.01,595.77 L156.60,594.79 L155.19,595.77 L155.69,594.13 L154.32,593.09 L156.04,593.05Z M170.00,591.43 L170.56,593.05 L172.28,593.09 L170.91,594.13 L171.41,595.77 L170.00,594.79 L168.59,595.77 L169.09,594.13 L167.72,593.09 L169.44,593.05Z M183.40,591.43 L183.96,593.05 L185.68,593.09 L184.31,594.13 L184.81,595.77 L183.40,594.79 L181.99,595.77 L182.49,594.13 L181.12,593.09 L182.84,593.05Z M196.80,591.43 L197.36,593.05 L199.08,593.09 L197.71,594.13 L198.21,595.77 L196.80,594.79 L195.39,595.77 L195.89,594.13 L194.52,593.09 L196.24,593.05Z M210.20,591.43 L210.76,593.05 L212.48,593.09 L211.11,594.13 L211.61,595.77 L210.20,594.79 L208.79,595.77 L209.29,594.13 L207.92,593.09 L209.64,593.05Z M223.60,591.43 L224.16,593.05 L225.88,593.09 L224.51,594.13 L225.01,595.77 L223.60,594.79 L222.19,595.77 L222.69,594.13 L221.32,593.09 L223.04,593.05Z M237.00,591.43 L237.56,593.05 L239.28,593.09 L237.91,594.13 L238.41,595.77 L237.00,594.79 L235.59,595.77 L236.09,594.13 L234.72,593.09 L236.44,593.05Z M250.40,591.43 L250.96,593.05 L252.68,593.09 L251.31,594.13 L251.81,595.77 L250.40,594.79 L248.99,595.77 L249.49,594.13 L248.12,593.09 L249.84,593.05Z M263.80,591.43 L264.36,593.05 L266.08,593.09 L264.71,594.13 L265.21,595.77 L263.80,594.79 L262.39,595.77 L262.89,594.13 L261.52,593.09 L263.24,593.05Z M277.20,591.43 L277.76,593.05 L279.48,593.09 L278.11,594.13 L278.61,595.77 L277.20,594.79 L275.79,595.77 L276.29,594.13 L274.92,593.09 L276.64,593.05Z M290.60,591.43 L291.16,593.05 L292.88,593.09 L291.51,594.13 L292.01,595.77 L290.60,594.79 L289.19,595.77 L289.69,594.13 L288.32,593.09 L290.04,593.05Z M304.00,591.43 L304.56,593.05 L306.28,593.09 L304.91,594.13 L305.41,595.77 L304.00,594.79 L302.59,595.77 L303.09,594.13 L301.72,593.09 L303.44,593.05Z M317.40,591.43 L317.96,593.05 L319.68,593.09 L318.31,594.13 L318.81,595.77 L317.40,594.79 L315.99,595.77 L316.49,594.13 L315.12,593.09 L316.84,593.05Z M89.60,598.73 L90.16,600.35 L91.88,600.39 L90.51,601.43 L91.01,603.07 L89.60,602.09 L88.19,603.07 L88.69,601.43 L87.32,600.39 L89.04,600.35Z M103.00,598.73 L103.56,600.35 L105.28,600.39 L103.91,601.43 L104.41,603.07 L103.00,602.09 L101.59,603.07 L102.09,601.43 L100.72,600.39 L102.44,600.35Z M116.40,598.73 L116.96,600.35 L118.68,600.39 L117.31,601.43 L117.81,603.07 L116.40,602.09 L114.99,603.07 L115.49,601.43 L114.12,600.39 L115.84,600.35Z M129.80,598.73 L130.36,600.35 L132.08,600.39 L130.71,601.43 L131.21,603.07 L129.80,602.09 L128.39,603.07 L128.89,601.43 L127.52,600.39 L129.24,600.35Z M143.20,598.73 L143.76,600.35 L145.48,600.39 L144.11,601.43 L144.61,603.07 L143.20,602.09 L141.79,603.07 L142.29,601.43 L140.92,600.39 L142.64,600.35Z M156.60,598.73 L157.16,600.35 L158.88,600.39 L157.51,601.43 L158.01,603.07 L156.60,602.09 L155.19,603.07 L155.69,601.43 L154.32,600.39 L156.04,600.35Z M170.00,598.73 L170.56,600.35 L172.28,600.39 L170.91,601.43 L171.41,603.07 L170.00,602.09 L168.59,603.07 L169.09,601.43 L167.72,600.39 L169.44,600.35Z M183.40,598.73 L183.96,600.35 L185.68,600.39 L184.31,601.43 L184.81,603.07 L183.40,602.09 L181.99,603.07 L182.49,601.43 L181.12,600.39 L182.84,600.35Z M196.80,598.73 L197.36,600.35 L199.08,600.39 L197.71,601.43 L198.21,603.07 L196.80,602.09 L195.39,603.07 L195.89,601.43 L194.52,600.39 L196.24,600.35Z M210.20,598.73 L210.76,600.35 L212.48,600.39 L211.11,601.43 L211.61,603.07 L210.20,602.09 L208.79,603.07 L209.29,601.43 L207.92,600.39 L209.64,600.35Z M223.60,598.73 L224.16,600.35 L225.88,600.39 L224.51,601.43 L225.01,603.07 L223.60,602.09 L222.19,603.07 L222.69,601.43 L221.32,600.39 L223.04,600.35Z M237.00,598.73 L237.56,600.35 L239.28,600.39 L237.91,601.43 L238.41,603.07 L237.00,602.09 L235.59,603.07 L236.09,601.43 L234.72,600.39 L236.44,600.35Z M250.40,598.73 L250.96,600.35 L252.68,600.39 L251.31,601.43 L251.81,603.07 L250.40,602.09 L248.99,603.07 L249.49,601.43 L248.12,600.39 L249.84,600.35Z M263.80,598.73 L264.36,600.35 L266.08,600.39 L264.71,601.43 L265.21,603.07 L263.80,602.09 L262.39,603.07 L262.89,601.43 L261.52,600.39 L263.24,600.35Z M277.20,598.73 L277.76,600.35 L279.48,600.39 L278.11,601.43 L278.61,603.07 L277.20,602.09 L275.79,603.07 L276.29,601.43 L274.92,600.39 L276.64,600.35Z M290.60,598.73 L291.16,600.35 L292.88,600.39 L291.51,601.43 L292.01,603.07 L290.60,602.09 L289.19,603.07 L289.69,601.43 L288.32,600.39 L290.04,600.35Z M304.00,598.73 L304.56,600.35 L306.28,600.39 L304.91,601.43 L305.41,603.07 L304.00,602.09 L302.59,603.07 L303.09,601.43 L301.72,600.39 L303.44,600.35Z M317.40,598.73 L317.96,600.35 L319.68,600.39 L318.31,601.43 L318.81,603.07 L317.40,602.09 L315.99,603.07 L316.49,601.43 L315.12,600.39 L316.84,600.35Z " fill="#1a1a1a" stroke="#1a1a1a" stroke-width="0.3"/>
<path d="M427.00,760.50 L440.40,750.00 L453.80,738.50 L467.20,743.00 L480.60,731.50 L494.00,721.00 L507.40,706.00 L520.80,690.50 L534.20,682.50 L547.60,684.30 L561.00,683.20 L574.40,686.60 L587.80,692.20 L601.20,697.80 L614.60,702.30 L628.00,702.30 L641.40,703.40 L654.80,705.70 L654.80,713.70 L641.40,711.40 L628.00,710.30 L614.60,710.30 L601.20,705.80 L587.80,700.20 L574.40,694.60 L561.00,691.20 L547.60,692.30 L534.20,690.50 L520.80,698.50 L507.40,714.00 L494.00,729.00 L480.60,739.50 L467.20,749.00 L453.80,744.50 L440.40,754.00 L427.00,763.50Z" fill="#FF0000" fill-opacity="0.2" stroke="none"/>
<path d="M427.00,761.50 L440.40,748.00 L453.80,738.50 L467.20,740.80 L480.60,740.20 L494.00,727.00 L507.40,702.50 L520.80,680.00 L534.20,665.20 L547.60,659.00 L561.00,659.00 L574.40,661.90 L587.80,667.50 L601.20,672.00 L614.60,676.50 L628.00,678.30 L641.40,679.80 L654.80,681.00 L654.80,689.00 L641.40,687.80 L628.00,686.30 L614.60,684.50 L601.20,680.00 L587.80,675.50 L574.40,669.90 L561.00,667.00 L547.60,667.00 L534.20,673.20 L520.80,688.00 L507.40,709.50 L494.00,733.00 L480.60,746.20 L467.20,746.80 L453.80,744.50 L440.40,752.00 L427.00,764.50Z" fill="#0000FF" fill-opacity="0.2" stroke="none"/>
<path d="M427.00,760.50 L440.40,750.00 L453.80,739.30 L467.20,745.80 L480.60,739.00 L494.00,725.00 L507.40,706.50 L520.80,693.50 L534.20,686.00 L547.60,688.80 L561.00,687.70 L574.40,694.00 L587.80,696.30 L601.20,701.60 L614.60,703.90 L628.00,706.10 L641.40,710.60 L654.80,714.70 L654.80,722.70 L641.40,718.60 L628.00,714.10 L614.60,711.90 L601.20,709.60 L587.80,704.30 L574.40,702.00 L561.00,695.70 L547.60,696.80 L534.20,694.00 L520.80,701.50 L507.40,713.50 L494.00,731.00 L480.60,745.00 L467.20,750.80 L453.80,744.30 L440.40,754.00 L427.00,763.50Z" fill="#FF0000" fill-opacity="0.2" stroke="none"/>
<path d="M427.00,761.50 L440.40,748.00 L453.80,726.10 L467.20,742.20 L480.60,741.70 L494.00,727.80 L507.40,702.30 L520.80,675.70 L534.20,655.10 L547.60,648.40 L561.00,651.30 L574.40,657.40 L587.80,663.00 L601.20,667.00 L614.60,673.10 L628.00,676.50 L641.40,679.40 L654.80,680.50 L654.80,688.50 L641.40,687.40 L628.00,684.50 L614.60,681.10 L601.20,675.00 L587.80,671.00 L574.40,665.40 L561.00,659.30 L547.60,656.40 L534.20,663.10 L520.80,683.70 L507.40,709.30 L494.00,733.80 L480.60,747.70 L467.20,747.20 L453.80,731.10 L440.40,752.00 L427.00,764.50Z" fill="#0000FF" fill-opacity="0.2" stroke="none"/>
<path d="M427.00,762.00 L440.40,752.00 L453.80,741.50 L467.20,746.00 L480.60,735.50 L494.00,725.00 L507.40,710.00 L520.80,694.50 L534.20,686.50 L547.60,688.30 L561.00,687.20 L574.40,690.60 L587.80,696.20 L601.20,701.80 L614.60,706.30 L628.00,706.30 L641.40,707.40 L654.80,709.70" fill="none" stroke="#FF0000" stroke-width="2.8" stroke-dasharray="5.2 4.1" stroke-linejoin="round" />
<path d="M427.00,763.00 L440.40,750.00 L453.80,741.50 L467.20,743.80 L480.60,743.20 L494.00,730.00 L507.40,706.00 L520.80,684.00 L534.20,669.20 L547.60,663.00 L561.00,663.00 L574.40,665.90 L587.80,671.50 L601.20,676.00 L614.60,680.50 L628.00,682.30 L641.40,683.80 L654.80,685.00" fill="none" stroke="#0000FF" stroke-width="2.8" stroke-dasharray="5.2 4.1" stroke-linejoin="round" />
<path d="M427.00,762.00 L440.40,752.00 L453.80,741.80 L467.20,748.30 L480.60,742.00 L494.00,728.00 L507.40,710.00 L520.80,697.50 L534.20,690.00 L547.60,692.80 L561.00,691.70 L574.40,698.00 L587.80,700.30 L601.20,705.60 L614.60,707.90 L628.00,710.10 L641.40,714.60 L654.80,718.70" fill="none" stroke="#FF0000" stroke-width="2.8" stroke-linejoin="round" />
<path d="M427.00,763.00 L440.40,750.00 L453.80,728.60 L467.20,744.70 L480.60,744.70 L494.00,730.80 L507.40,705.80 L520.80,679.70 L534.20,659.10 L547.60,652.40 L561.00,655.30 L574.40,661.40 L587.80,667.00 L601.20,671.00 L614.60,677.10 L628.00,680.50 L641.40,683.40 L654.80,684.50" fill="none" stroke="#0000FF" stroke-width="2.8" stroke-linejoin="round" />
<path d="M454.05,613.8 V772.4" stroke="#808080" stroke-width="1.6" stroke-dasharray="4.9 4.66" stroke-dashoffset="0"/>
<path d="M420,589.6 V772.4 H661.8" fill="none" stroke="#262626" stroke-width="1.1"/>
<path d="M420,726.70 h2.7 M420,681.00 h2.7 M420,635.30 h2.7 M420,589.60 h2.7 " fill="none" stroke="#262626" stroke-width="1.1"/>
<text x="406.17" y="779.70" font-size="19.4" text-anchor="start" fill="#262626" >0</text>
<text x="406.28" y="733.50" font-size="19.4" text-anchor="start" fill="#262626" >4</text>
<text x="406.55" y="685.60" font-size="19.4" text-anchor="start" fill="#262626" >8</text>
<text x="395.90" y="639.70" font-size="19.4" text-anchor="start" fill="#262626" >12</text>
<text x="395.77" y="595.90" font-size="19.4" text-anchor="start" fill="#262626" >16</text>
<text x="448.61" y="791.40" font-size="19.4" text-anchor="start" fill="#262626" >0</text>
<text x="648.82" y="791.60" font-size="19.4" text-anchor="start" fill="#262626" >2.2</text>
<text x="437.41" y="811.00" font-size="21.668" text-anchor="start" fill="#000" >Time from target off (s)</text>
<text transform="translate(393.00,698.83) rotate(-90)" font-size="22.277" fill="#000">FEV</text>
<text x="424.42" y="582.40" font-size="18.4" text-anchor="start" fill="#262626" >×</text>
<text transform="translate(436.30,582.40) scale(1,1.08)" font-size="18.4" fill="#262626">10</text>
<text x="457.16" y="576.40" font-size="10" text-anchor="start" fill="#262626" >-3</text>
<path d="M480.60,606.43 L481.16,608.05 L482.88,608.09 L481.51,609.13 L482.01,610.77 L480.60,609.79 L479.19,610.77 L479.69,609.13 L478.32,608.09 L480.04,608.05Z M480.60,617.83 L481.16,619.45 L482.88,619.49 L481.51,620.53 L482.01,622.17 L480.60,621.19 L479.19,622.17 L479.69,620.53 L478.32,619.49 L480.04,619.45Z M574.60,617.83 L575.16,619.45 L576.88,619.49 L575.51,620.53 L576.01,622.17 L574.60,621.19 L573.19,622.17 L573.69,620.53 L572.32,619.49 L574.04,619.45Z M641.60,617.83 L642.16,619.45 L643.88,619.49 L642.51,620.53 L643.01,622.17 L641.60,621.19 L640.19,622.17 L640.69,620.53 L639.32,619.49 L641.04,619.45Z M655.00,617.83 L655.56,619.45 L657.28,619.49 L655.91,620.53 L656.41,622.17 L655.00,621.19 L653.59,622.17 L654.09,620.53 L652.72,619.49 L654.44,619.45Z " fill="#1a1a1a" stroke="#1a1a1a" stroke-width="0.3"/>
<path d="M545.8,585.1 H574.9" stroke="#000" stroke-width="2.4"/>
<path d="M548.2,603 H572.8" stroke="#000" stroke-width="2.3" stroke-dasharray="5.1 4.6"/>
<text x="581.32" y="591.60" font-size="16.828" text-anchor="start" fill="#000" >Repetition</text>
<text x="581.44" y="609.00" font-size="16.649" text-anchor="start" fill="#000" >Switch</text>
<path d="M543.1,726.6 H571.9" stroke="#FF0000" stroke-width="2.4"/>
<path d="M543.1,744.0 H571.9" stroke="#0000FF" stroke-width="2.4"/>
<text x="577.03" y="729.90" font-size="17.225" text-anchor="start" fill="#000" >CN</text>
<text x="577.27" y="746.90" font-size="17.461" text-anchor="start" fill="#000" >EN</text>
</svg></body></html>
